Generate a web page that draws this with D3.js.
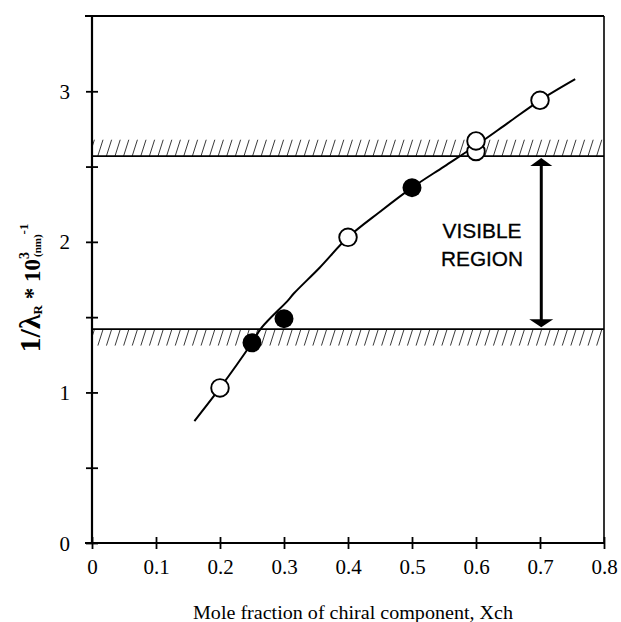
<!DOCTYPE html>
<html><head><meta charset="utf-8">
<script src="https://cdn.jsdelivr.net/npm/d3@7"></script>
<style>body{margin:0;background:#fff}</style>
</head><body>
<svg id="c" width="621" height="622"></svg>
<script>
// ---- data ----
const xTickValues = [0, 0.1, 0.2, 0.3, 0.4, 0.5, 0.6, 0.7, 0.8];
const xTickLabels = ["0", "0.1", "0.2", "0.3", "0.4", "0.5", "0.6", "0.7", "0.8"];
const yTickValues = [0, 0.5, 1, 1.5, 2, 2.5, 3];
const yTickLabels = ["0", "", "1", "", "2", "", "3"];
const openX = [0.2, 0.4, 0.6, 0.6, 0.7];
const openY = [1.03, 2.03, 2.60, 2.67, 2.94];
const filledX = [0.25, 0.3, 0.5];
const filledY = [1.33, 1.49, 2.36];
const curveX = [0.16, 0.2, 0.25, 0.265, 0.306, 0.316, 0.356, 0.4, 0.45, 0.5, 0.55, 0.6, 0.65, 0.7, 0.755];
const curveY = [0.81, 1.03, 1.33, 1.43, 1.61, 1.66, 1.83, 2.03, 2.20, 2.36, 2.50, 2.64, 2.79, 2.94, 3.08];
const upperBand = [2.57, 2.68];   // line value, hatch top
const lowerBand = [1.42, 1.31];   // line value, hatch bottom
const arrowX = 0.702;
const arrowRange = [1.42, 2.57];
const regionLabel = ["VISIBLE", "REGION"];
const xTitle = "Mole fraction of chiral component, Xch";

// ---- layout ----
const L = 92, R = 604, T = 16, B = 543;
const svg = d3.select("#c");
const x = d3.scaleLinear().domain([0, 0.8]).range([L, R]);
const y = d3.scaleLinear().domain([0, 3.5]).range([B, T]);
const serif = "'Liberation Serif', 'Times New Roman', serif";

// hatch bands
const defs = svg.append("defs");
function band(id, v0, v1) {
  const ya = Math.min(y(v0), y(v1)), yb = Math.max(y(v0), y(v1));
  defs.append("clipPath").attr("id", id).append("rect")
    .attr("x", L).attr("y", ya).attr("width", R - L).attr("height", yb - ya);
  const g = svg.append("g").attr("clip-path", `url(#${id})`);
  const step = 8.6, lean = (yb - ya) * 0.32;
  const xs = d3.range(L - 20, R + 20, step);
  g.selectAll("line").data(xs).join("line")
    .attr("x1", d => d).attr("y1", yb).attr("x2", d => d + lean).attr("y2", ya)
    .attr("stroke", "#222").attr("stroke-width", 0.9);
}
band("hb1", upperBand[0], upperBand[1]);
band("hb2", lowerBand[0], lowerBand[1]);
svg.append("line").attr("x1", L).attr("x2", R).attr("y1", y(upperBand[0])).attr("y2", y(upperBand[0]))
  .attr("stroke", "#000").attr("stroke-width", 1.8);
svg.append("line").attr("x1", L).attr("x2", R).attr("y1", y(lowerBand[0])).attr("y2", y(lowerBand[0]))
  .attr("stroke", "#000").attr("stroke-width", 1.8);

// frame top/right
svg.append("line").attr("x1", L - 7).attr("x2", R).attr("y1", T).attr("y2", T).attr("stroke", "#000").attr("stroke-width", 2);
svg.append("line").attr("x1", R).attr("x2", R).attr("y1", T).attr("y2", B).attr("stroke", "#000").attr("stroke-width", 1.6);

// axes
const xAxis = svg.append("g").attr("transform", `translate(0,${B})`)
  .call(d3.axisBottom(x).tickValues(xTickValues).tickFormat((d, i) => xTickLabels[i]).tickSize(6).tickPadding(10));
const yAxis = svg.append("g").attr("transform", `translate(${L},0)`)
  .call(d3.axisLeft(y).tickValues(yTickValues).tickFormat((d, i) => yTickLabels[i]).tickSize(6).tickPadding(16));
[xAxis, yAxis].forEach(a => {
  a.attr("font-family", serif).attr("font-size", 21);
  a.select(".domain").attr("stroke", "#000").attr("stroke-width", 2.2);
  a.selectAll(".tick line").attr("stroke", "#000").attr("stroke-width", 1.8);
  a.selectAll("text").attr("font-family", serif).attr("font-size", 21).attr("fill", "#000");
});
xAxis.selectAll(".tick line").attr("y1", -6).attr("y2", 6);
yAxis.selectAll(".tick line").attr("x1", 6).attr("x2", -6);
xAxis.select(".domain").attr("d", `M${L - 7},0H${R}`);
yAxis.select(".domain").attr("d", `M0,${T}V${B}`);
yAxis.selectAll("text").attr("dy", "0.34em");

// curve
const pts = curveX.map((v, i) => [x(v), y(curveY[i])]);
svg.append("path").attr("d", d3.line().curve(d3.curveCatmullRom.alpha(0.5))(pts))
  .attr("fill", "none").attr("stroke", "#000").attr("stroke-width", 2);

// points
svg.append("g").selectAll("circle").data(filledX).join("circle")
  .attr("cx", d => x(d)).attr("cy", (d, i) => y(filledY[i])).attr("r", 9.5).attr("fill", "#000");
svg.append("g").selectAll("circle").data(openX).join("circle")
  .attr("cx", d => x(d)).attr("cy", (d, i) => y(openY[i])).attr("r", 8.8)
  .attr("fill", "#fff").attr("stroke", "#000").attr("stroke-width", 1.9);

// arrow
const ax = x(arrowX), ay1 = y(arrowRange[1]), ay0 = y(arrowRange[0]);
svg.append("line").attr("x1", ax).attr("x2", ax).attr("y1", ay1 + 6).attr("y2", ay0 - 6)
  .attr("stroke", "#000").attr("stroke-width", 3);
svg.append("path").attr("d", `M${ax},${ay1 + 2}L${ax - 11},${ay1 + 10}L${ax + 11},${ay1 + 10}Z`).attr("fill", "#000");
svg.append("path").attr("d", `M${ax},${ay0 - 2}L${ax - 12},${ay0 - 10}L${ax + 12},${ay0 - 10}Z`).attr("fill", "#000");

// region label
const regionLen = [79, 82];
svg.append("g").selectAll("text").data(regionLabel).join("text")
  .attr("x", (d, i) => 482 - regionLen[i] / 2).attr("y", (d, i) => 238 + i * 27.5)
  .attr("textLength", (d, i) => regionLen[i]).attr("lengthAdjust", "spacingAndGlyphs")
  .attr("font-family", "'Liberation Sans', Arial, sans-serif").attr("font-size", 21)
  .attr("stroke", "#000").attr("stroke-width", 0.3)
  .attr("fill", "#000").text(d => d);

// x title
svg.append("text").attr("x", 353 - 160).attr("y", 619)
  .attr("textLength", 320).attr("lengthAdjust", "spacingAndGlyphs")
  .attr("font-family", serif).attr("font-size", 18).attr("fill", "#000").text(xTitle);

// y title
const yt = svg.append("text").attr("transform", "translate(40,288) rotate(-90)")
  .attr("text-anchor", "middle").attr("font-family", serif).attr("font-weight", "bold")
  .attr("font-size", 23).attr("fill", "#000");
yt.append("tspan").attr("font-size", 30).text("1/λ");
yt.append("tspan").attr("font-size", 13).attr("dy", 2).text("R");
yt.append("tspan").attr("dy", -2).text(" * 10");
yt.append("tspan").attr("font-size", 14).attr("dy", -11).text("3");
yt.append("tspan").attr("font-size", 11).attr("dy", 12).attr("dx", -5).text("(nm)");
yt.append("tspan").attr("font-size", 13).attr("dy", -13).text("-1");
</script>
</body></html>
